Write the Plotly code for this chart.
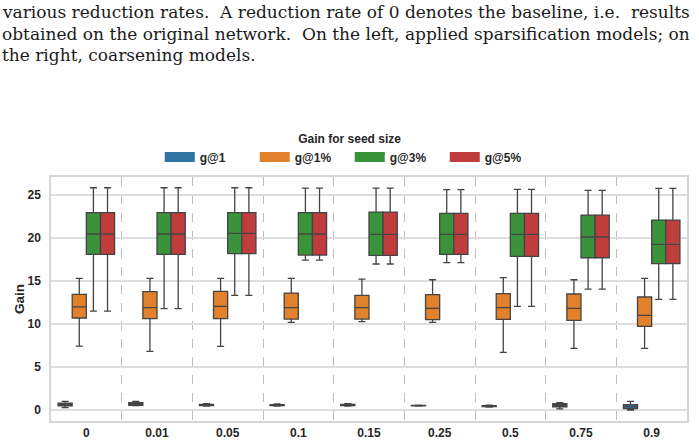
import plotly.graph_objects as go

categories = ["0", "0.01", "0.05", "0.1", "0.15", "0.25", "0.5", "0.75", "0.9"]
series_names = ["g@1", "g@1%", "g@3%", "g@5%"]
colors = ["#3274a1", "#e1812c", "#3a923a", "#c03d3e"]

# per series: lower whisker, q1, median, q3, upper whisker (one value per category)
g1_low = [0.27, 0.50, 0.45, 0.45, 0.45, 0.45, 0.35, 0.12, 0.00]
g1_q1 = [0.47, 0.55, 0.50, 0.50, 0.50, 0.48, 0.40, 0.38, 0.15]
g1_med = [0.62, 0.70, 0.55, 0.55, 0.55, 0.50, 0.45, 0.55, 0.40]
g1_q3 = [0.81, 0.85, 0.65, 0.62, 0.65, 0.53, 0.50, 0.73, 0.62]
g1_up = [1.00, 1.00, 0.75, 0.72, 0.75, 0.56, 0.55, 0.85, 1.00]

g1p_low = [7.44, 6.82, 7.40, 10.20, 10.27, 10.19, 6.71, 7.17, 7.17]
g1p_q1 = [10.70, 10.62, 10.62, 10.58, 10.58, 10.50, 10.54, 10.43, 9.73]
g1p_med = [12.00, 11.90, 12.05, 11.90, 11.90, 11.82, 11.90, 11.82, 11.01]
g1p_q3 = [13.45, 13.76, 13.80, 13.60, 13.33, 13.41, 13.53, 13.49, 13.14]
g1p_up = [15.30, 15.30, 15.30, 15.30, 15.23, 15.15, 15.39, 15.15, 15.30]

g3p_low = [11.50, 11.78, 13.33, 17.44, 16.98, 17.13, 12.05, 14.07, 12.87]
g3p_q1 = [18.10, 18.10, 18.18, 18.02, 17.98, 18.10, 17.87, 17.71, 17.02]
g3p_med = [20.47, 20.47, 20.54, 20.47, 20.43, 20.43, 20.43, 20.12, 19.26]
g3p_q3 = [22.95, 22.95, 22.95, 22.95, 23.02, 22.87, 22.87, 22.67, 22.09]
g3p_up = [25.85, 25.85, 25.85, 25.80, 25.80, 25.62, 25.66, 25.54, 25.77]

g5p_low = [11.50, 11.78, 13.33, 17.44, 16.98, 17.13, 12.05, 14.07, 12.87]
g5p_q1 = [18.10, 18.10, 18.18, 18.02, 17.98, 18.10, 17.87, 17.71, 17.02]
g5p_med = [20.47, 20.47, 20.54, 20.47, 20.43, 20.43, 20.43, 20.12, 19.26]
g5p_q3 = [22.95, 22.95, 22.95, 22.95, 23.02, 22.87, 22.87, 22.67, 22.09]
g5p_up = [25.85, 25.85, 25.85, 25.80, 25.80, 25.62, 25.66, 25.54, 25.77]

caption_lines = [
    "various reduction rates.  A reduction rate of 0 denotes the baseline, i.e.  results",
    "obtained on the original network.  On the left, applied sparsification models; on",
    "the right, coarsening models.",
]

stats = [
    (g1_low, g1_q1, g1_med, g1_q3, g1_up),
    (g1p_low, g1p_q1, g1p_med, g1p_q3, g1p_up),
    (g3p_low, g3p_q1, g3p_med, g3p_q3, g3p_up),
    (g5p_low, g5p_q1, g5p_med, g5p_q3, g5p_up),
]

fig = go.Figure()
for name, col, (lo, q1, med, q3, up) in zip(series_names, colors, stats):
    fig.add_trace(go.Box(
        name=name,
        x=categories,
        lowerfence=lo, q1=q1, median=med, q3=q3, upperfence=up,
        fillcolor=col,
        line=dict(color="#444444", width=1.3),
        whiskerwidth=0.5,
        boxpoints=False,
        showlegend=False,
        legendgroup=name,
    ))
# legend swatches (legend-only entries)
for name, col in zip(series_names, colors):
    fig.add_trace(go.Scatter(
        name=name, x=[None], y=[None], mode="lines",
        line=dict(color=col, width=10), legendgroup=name, showlegend=True,
    ))

fig.update_layout(
    width=699, height=443,
    margin=dict(l=51, r=12, t=177, b=22),
    paper_bgcolor="white", plot_bgcolor="white",
    boxmode="group", boxgap=0.2, boxgroupgap=0,
    font=dict(family="Liberation Sans", size=12, color="#262626"),
    showlegend=True,
    legend=dict(
        orientation="h", x=(350 - 51) / 636.5, xanchor="center", y=1.205, yanchor="top",
        title=dict(text="Gain for seed size", side="top center",
                   font=dict(size=12, weight="bold", color="#262626")),
        font=dict(size=12, weight="bold", color="#262626"),
        entrywidth=50, entrywidthmode="pixels",
        itemwidth=30,
        bgcolor="rgba(0,0,0,0)",
    ),
    xaxis=dict(
        type="category", categoryorder="array", categoryarray=categories,
        tickson="boundaries", showgrid=True, gridcolor="#bdbdbd",
        griddash="dash", gridwidth=1, ticks="", ticklen=0,
        tickfont=dict(size=12, weight="bold", color="#262626"),
        ticklabelstandoff=0, automargin=False,
        showline=True, linecolor="#d6d6d6", linewidth=1.5, mirror=True,
        range=[-0.5, 8.5],
    ),
    yaxis=dict(
        range=[-1.28, 27.1], tickvals=[0, 5, 10, 15, 20, 25],
        showgrid=True, gridcolor="#dedede", gridwidth=1.5, zeroline=False,
        tickfont=dict(size=12, weight="bold", color="#262626"),
        ticks="", ticklabelstandoff=6, automargin=False,
        title=dict(text="Gain", font=dict(size=13.5, weight="bold", color="#262626"), standoff=0),
        showline=True, linecolor="#d6d6d6", linewidth=1.5, mirror=True,
    ),
)

cap_y = [12, 33.5, 55]
for line, py in zip(caption_lines, cap_y):
    fig.add_annotation(
        text=line, xref="paper", yref="paper",
        x=(0 - 51) / 636.5, y=(421 - py) / 244,
        xanchor="left", yanchor="middle", showarrow=False,
        font=dict(family="DejaVu Serif", size=17, color="#1a1a1a"),
    )

fig.write_html("out.html")
